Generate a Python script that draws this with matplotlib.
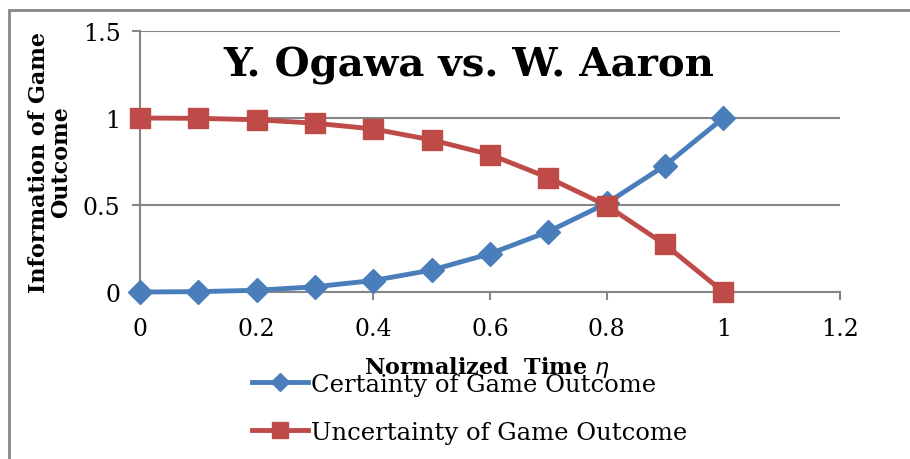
import matplotlib
matplotlib.use('Agg')
import matplotlib.pyplot as plt
from matplotlib.patches import Rectangle

# normalized time and the two information curves
eta = [0.0, 0.1, 0.2, 0.3, 0.4, 0.5, 0.6, 0.7, 0.8, 0.9, 1.0]
certainty = [0.0, 0.002, 0.01, 0.03, 0.066, 0.126, 0.22, 0.347, 0.51, 0.727, 1.0]
uncertainty = [1.0, 0.998, 0.99, 0.97, 0.937, 0.874, 0.79, 0.657, 0.497, 0.273, 0.0]

xticks = [0, 0.2, 0.4, 0.6, 0.8, 1, 1.2]
xtick_labels = ['0', '0.2', '0.4', '0.6', '0.8', '1', '1.2']
yticks = [0, 0.5, 1, 1.5]
ytick_labels = ['0', '0.5', '1', '1.5']

title = 'Y. Ogawa vs. W. Aaron'
series_names = ['Certainty of Game Outcome', 'Uncertainty of Game Outcome']

plt.rcParams['font.family'] = ['DejaVu Serif']
gray = '#868686'
blue = '#4A7EBB'
red = '#BE4B48'

fig = plt.figure(figsize=(9.1, 4.6), dpi=100)
ax = fig.add_axes([140 / 910, 1 - 293 / 460, 700 / 910, 261 / 460])

ax.plot(eta, certainty, color=blue, lw=3.5, marker='D', ms=12,
        label=series_names[0], zorder=3, clip_on=False)
ax.plot(eta, uncertainty, color=red, lw=3.5, marker='s', ms=14.5,
        label=series_names[1], zorder=4, clip_on=False)

ax.set_xlim(0, 1.2)
ax.set_ylim(0, 1.5)
ax.set_xticks(xticks)
ax.set_xticklabels(xtick_labels)
ax.set_yticks(yticks)
ax.set_yticklabels(ytick_labels)
ax.tick_params(labelsize=17, color=gray, width=1.5, length=6)
ax.tick_params(axis='x', pad=12)
ax.tick_params(axis='y', pad=8)
ax.yaxis.grid(True, color=gray, lw=1.5)
ax.set_axisbelow(True)
for s in ['top', 'right']:
    ax.spines[s].set_visible(False)
for s in ['left', 'bottom']:
    ax.spines[s].set_color(gray)
    ax.spines[s].set_linewidth(1.5)
ax.patch.set_alpha(0)

ax.text(0.47, 0.87, title, transform=ax.transAxes, ha='center', va='center',
        fontsize=29, fontweight='bold')

ax.set_ylabel('Information of Game\nOutcome', fontsize=16, fontweight='bold',
              labelpad=8, linespacing=1.0)

fig.text(487 / 910, 1 - 368 / 460, r'Normalized  Time $\eta$', ha='center',
         va='center', fontsize=16, fontweight='bold')

fig.legend(loc='upper left', bbox_to_anchor=(230 / 910, 1 - 352 / 460),
           frameon=False, fontsize=17.5, handlelength=2.3, labelspacing=1.03,
           handletextpad=0.15, markerscale=0.8)

fig.add_artist(Rectangle((9 / 910, -0.2), 1.2, 1.2 - 11 / 460,
                         transform=fig.transFigure, fill=False,
                         edgecolor=gray, lw=2, zorder=0))

fig.savefig('out.png', dpi=100)
